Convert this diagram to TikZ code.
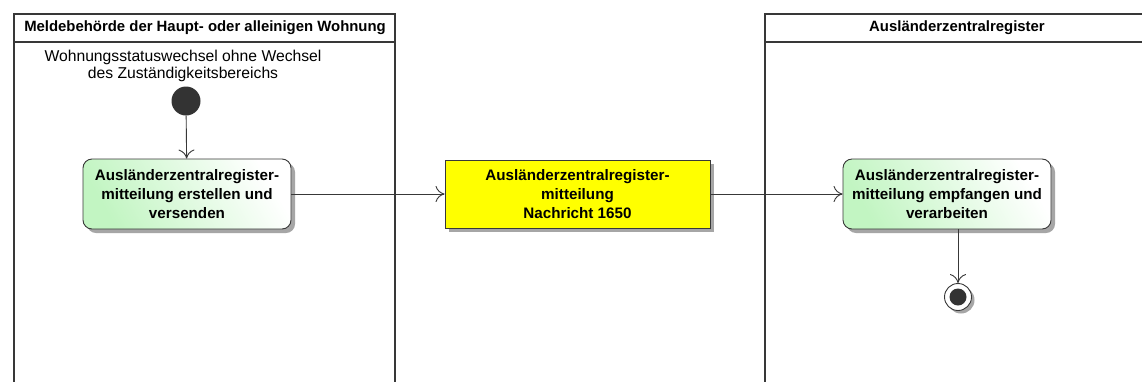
\documentclass[tikz,border=0pt]{standalone}
\usepackage{fontspec}
\setmainfont{Liberation Sans}
\usetikzlibrary{shadows,arrows.meta}
\definecolor{lanecol}{HTML}{383838}
\definecolor{linecol}{HTML}{383838}
\definecolor{actgreen}{HTML}{C2F5C2}
\definecolor{msgyellow}{HTML}{FFFF00}
\tikzset{
  x=1pt, y=-1pt,
  lane/.style={draw=lanecol, line width=1.6pt},
  lanehead/.style={font=\fontsize{14.9}{16}\selectfont\bfseries, anchor=center},
  action/.style={draw=lanecol, line width=0.9pt, rounded corners=9pt,
    minimum width=208pt, minimum height=70pt, align=center,
    font=\fontsize{15.2}{19}\selectfont\bfseries,
    top color=white, bottom color=actgreen, shading angle=-60,
    drop shadow={shadow xshift=4pt, shadow yshift=-4pt, fill=black!35, opacity=1}},
  msg/.style={draw=lanecol, line width=0.9pt, fill=msgyellow,
    minimum width=265pt, minimum height=68pt, align=center,
    font=\fontsize{15.2}{19}\selectfont\bfseries,
    drop shadow={shadow xshift=4pt, shadow yshift=-4pt, fill=black!35, opacity=1}},
  flow/.style={draw=linecol, line width=0.9pt, -{To[length=9pt,width=16pt,line width=0.9pt]}},
  lbl/.style={align=center, font=\fontsize{15.7}{16.5}\selectfont}
}
\begin{document}
\begin{tikzpicture}
\useasboundingbox (0,0) rectangle (1142,381);
\fill[white] (0,0) rectangle (1142,381);
% lanes
\draw[lane] (14,383) -- (14,14) -- (395,14) -- (395,383);
\draw[lane] (14,42) -- (395,42);
\draw[lane] (765,383) -- (765,14) -- (1143,14);
\draw[lane] (765,42) -- (1143,42);
\node[lanehead] (h1) at (205,28) {Meldebehörde der Haupt- oder alleinigen Wohnung};
\node[lanehead] (h2) at (957,28) {Ausländerzentralregister};
% start
\node[lbl] (startlbl) at (183,66) {Wohnungsstatuswechsel ohne Wechsel\\des Zuständigkeitsbereichs};
\node[circle, fill=black!80, minimum size=29pt, inner sep=0pt] (start) at (186,101) {};
% actions
\node[action] (a1) at (187,194) {Ausländerzentralregister-\\mitteilung erstellen und\\versenden};
\node[msg] (m) at (577.5,194) {Ausländerzentralregister-\\mitteilung\\Nachricht 1650};
\node[action] (a2) at (947,194) {Ausländerzentralregister-\\mitteilung empfangen und\\verarbeiten};
% end
\node[circle, draw=lanecol, line width=0.9pt, fill=white, minimum size=27pt, inner sep=0pt,
  drop shadow={shadow xshift=3pt, shadow yshift=-3pt, fill=black!35, opacity=1}] (end) at (958,297) {};
\node[circle, fill=black!80, minimum size=17pt, inner sep=0pt] (endin) at (end.center) {};
% flows
\draw[flow] (start) -- (a1);
\draw[flow] (a1) -- (m);
\draw[flow] (m) -- (a2);
\draw[flow] (a2.south -| end) -- (end);
\end{tikzpicture}
\end{document}
